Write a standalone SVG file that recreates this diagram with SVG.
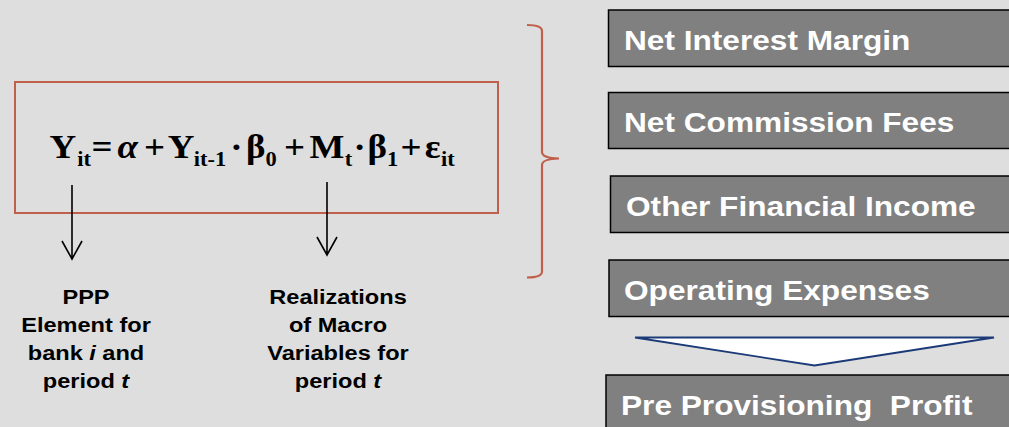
<svg xmlns="http://www.w3.org/2000/svg" width="1009" height="427" viewBox="0 0 1009 427">
  <style>
    .eq { font-family: "Liberation Serif", "Times New Roman", serif; font-weight: bold; fill: #000; }
    .big { font-size: 33px; }
    .sub { font-size: 20px; }
    .lbl { font-family: "Liberation Sans", Arial, sans-serif; font-weight: bold; font-size: 20.5px; fill: #000; text-anchor: middle; }
    .item rect { fill: #808080; stroke: #000; stroke-width: 1.5; }
    .item text { font-family: "Liberation Sans", Arial, sans-serif; font-weight: bold; font-size: 28px; fill: #fff; white-space: pre; }
    .arrow { fill: none; stroke: #000; stroke-width: 1.6; }
    .brace { fill: none; stroke: #c0604c; stroke-width: 2.2; }
  </style>
  <rect width="1009" height="427" fill="#dedede"/>

  <!-- model equation -->
  <g id="equation">
    <rect x="15" y="82" width="483" height="131" fill="none" stroke="#c0604c" stroke-width="2"/>
    <g transform="scale(1.12 1)">
      <text class="eq">
        <tspan class="big" x="44.2" y="158.5">Y</tspan>
        <tspan class="sub" x="69" y="166">it</tspan>
        <tspan class="big" x="81.6" y="158.5">=</tspan>
        <tspan class="big" x="104.9" y="158.5" font-style="italic">α</tspan>
        <tspan class="big" x="128.6" y="158.5">+</tspan>
        <tspan class="big" x="149.8" y="158.5">Y</tspan>
        <tspan class="sub" x="173" y="166">it-1</tspan>
        <tspan class="big" x="205.5" y="158.5">·</tspan>
        <tspan class="big" x="219.6" y="158.5">β</tspan>
        <tspan class="sub" x="237.1" y="166">0</tspan>
        <tspan class="big" x="253.6" y="158.5">+</tspan>
        <tspan class="big" x="276.3" y="158.5">M</tspan>
        <tspan class="sub" x="307.8" y="166">t</tspan>
        <tspan class="big" x="315.6" y="158.5">·</tspan>
        <tspan class="big" x="328.1" y="158.5">β</tspan>
        <tspan class="sub" x="345.5" y="166">1</tspan>
        <tspan class="big" x="357.6" y="158.5">+</tspan>
        <tspan class="big" x="379.2" y="158.5">ε</tspan>
        <tspan class="sub" x="393.8" y="166">it</tspan>
      </text>
    </g>
  </g>

  <!-- explanations under the equation terms -->
  <g id="label-ppp" transform="translate(86 0) scale(1.15 1)">
    <text class="lbl"><tspan x="0" y="304">PPP</tspan><tspan x="0" y="332">Element for</tspan><tspan x="0" y="360">bank <tspan font-style="italic">i</tspan> and</tspan><tspan x="0" y="388">period <tspan font-style="italic">t</tspan></tspan></text>
  </g>
  <g id="label-macro" transform="translate(338 0) scale(1.15 1)">
    <text class="lbl"><tspan x="0" y="304">Realizations</tspan><tspan x="0" y="332">of Macro</tspan><tspan x="0" y="360">Variables for</tspan><tspan x="0" y="388">period <tspan font-style="italic">t</tspan></tspan></text>
  </g>

  <!-- PPP components -->
  <g id="net-interest-margin" class="item">
    <rect x="608.5" y="10" width="420" height="56.5"/>
    <text transform="translate(624 50) scale(1.13 1)">Net Interest Margin</text>
  </g>
  <g id="net-commission-fees" class="item">
    <rect x="608.5" y="92.5" width="420" height="56"/>
    <text transform="translate(624 132) scale(1.13 1)">Net Commission Fees</text>
  </g>
  <g id="other-financial-income" class="item">
    <rect x="610.5" y="176" width="420" height="56.5"/>
    <text transform="translate(626 216) scale(1.13 1)">Other Financial Income</text>
  </g>
  <g id="operating-expenses" class="item">
    <rect x="609" y="260" width="420" height="56.5"/>
    <text transform="translate(624 300) scale(1.13 1)">Operating Expenses</text>
  </g>
  <g id="sum-arrow">
    <polygon points="635,337.5 994,337.5 814.5,365.5" fill="#ffffff" stroke="#1b3a78" stroke-width="1.8" stroke-linejoin="miter"/>
  </g>
  <g id="pre-provisioning-profit" class="item">
    <rect x="606" y="375" width="420" height="60"/>
    <text transform="translate(621 415) scale(1.13 1)">Pre Provisioning  Profit</text>
  </g>

  <!-- connectors -->
  <g id="connectors">
    <path class="arrow" d="M72 185 V259 M62 241 L72 259 L82 241"/>
    <path class="arrow" d="M327 182 V255 M317 237 L327 255 L337 237"/>
    <path class="brace" d="M527 25 Q542 25 542 31 V152 Q542 158 559 158.5 Q542 159 542 165 V271.5 Q542 277.5 527 277.5"/>
  </g>
</svg>
